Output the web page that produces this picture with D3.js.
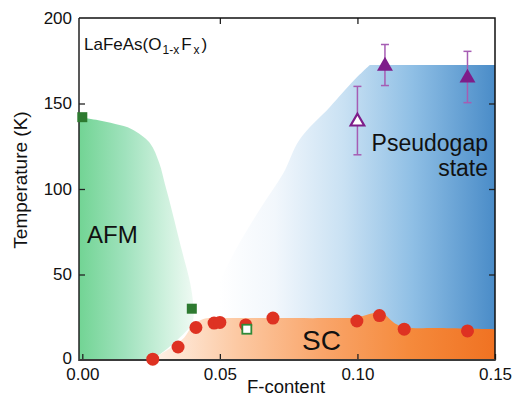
<!DOCTYPE html>
<html><head><meta charset="utf-8">
<script src="https://cdn.jsdelivr.net/npm/d3@7/dist/d3.min.js"></script>
<style>
html,body{margin:0;padding:0;background:#fff;}
svg{display:block;font-family:"Liberation Sans",Arial,sans-serif;}
</style></head>
<body><svg id="c" width="515" height="403"></svg>
<script>
// ---- data ----
const xTicks = [0, 0.05, 0.10, 0.15];
const yTicks = [0, 50, 100, 150, 200];
// superconducting Tc (red circles)
const scX = [0.0256, 0.0348, 0.0413, 0.0479, 0.0500, 0.0594, 0.0693, 0.0998, 0.108, 0.117, 0.140];
const scT = [0.5, 7.6, 19, 21.6, 22, 20.5, 24.5, 22.8, 26, 18, 17];
// AFM transition (filled green squares)
const afmX = [0.0, 0.0398];
const afmT = [142, 30];
// open green square
const afmOpenX = [0.0598];
const afmOpenT = [18];
// pseudogap (purple triangles) with error bars
const pgX = [0.110, 0.140];
const pgT = [172.5, 165.5];
const pgErr = [12, 15];
const pgOpenX = [0.100];
const pgOpenT = [140];
const pgOpenErr = [20];
// region boundaries
const afmRegion = [[-0.0012,142],[0.005,140.5],[0.012,138],[0.018,135],[0.0245,127],[0.028,115],[0.030,103],[0.032,91],[0.0362,64],[0.0392,45],[0.0403,32],[0.0400,22],[0.034,11],[0.028,3],[0.0255,0],[-0.0012,0]];
const scRegion = [[0.0245,0],[0.028,3],[0.033,8],[0.037,13],[0.040,20],[0.044,24],[0.05,24.5],[0.07,24.5],[0.09,24.5],[0.10,25],[0.106,27.5],[0.109,27.5],[0.114,21],[0.118,19],[0.13,18.7],[0.15,18],[0.15,0]];
const pgRegion = [[0.1045,172.5],[0.15,172.5],[0.15,0],[0.040,0],[0.043,20],[0.0536,58],[0.0645,88],[0.073,109],[0.079,129],[0.090,148],[0.099,164],[0.1045,172.5]];

// ---- layout ----
const svg = d3.select("#c");
const L=79, R=495, T=18, B=360;
const x = d3.scaleLinear().domain([-0.0012, 0.15]).range([L, R]);
const y = d3.scaleLinear().domain([0, 200]).range([B, T]);

const defs = svg.append("defs");
function grad(id, x1, x2, stops){
  const g = defs.append("linearGradient").attr("id", id)
    .attr("gradientUnits","userSpaceOnUse")
    .attr("x1", x1).attr("x2", x2).attr("y1",0).attr("y2",0);
  stops.forEach(s=>g.append("stop").attr("offset",s[0]).attr("stop-color",s[1]));
}
grad("gAFM", L, x(0.041), [[0,"#72d494"],[0.4,"#a0e2bd"],[0.75,"#cff1de"],[1,"#f0faf4"]]);
grad("gPG", x(0.05), R, [[0,"#ffffff"],[0.2,"#f2f7fc"],[0.45,"#c9e1f3"],[0.7,"#8fbfe5"],[1,"#4a8cc8"]]);
grad("gSC", x(0.025), R, [[0,"#fff3ea"],[0.25,"#fcc9a3"],[0.5,"#f9a56a"],[0.75,"#f58a3c"],[1,"#f07222"]]);

const clip = defs.append("clipPath").attr("id","plot");
clip.append("rect").attr("x",L).attr("y",T).attr("width",R-L).attr("height",B-T);

const line = d3.line().x(d=>x(d[0])).y(d=>y(d[1]));
const curved = d3.line().x(d=>x(d[0])).y(d=>y(d[1])).curve(d3.curveCatmullRom);
const plot = svg.append("g").attr("clip-path","url(#plot)");

plot.append("path").attr("d", line(pgRegion.slice(0,3)) + curved(pgRegion.slice(3)).replace(/^M/,"L") + "Z").attr("fill","url(#gPG)");
plot.append("path").attr("d", curved(afmRegion.slice(0,afmRegion.length-1)) + "L"+x(afmRegion[afmRegion.length-1][0])+","+y(0)+"Z").attr("fill","url(#gAFM)");
plot.append("path").attr("d", curved(scRegion.slice(0,scRegion.length-1)) + "L"+x(0.15)+","+y(0)+"Z").attr("fill","url(#gSC)");

// ---- axes ----
const fmt = d3.format(".2f");
svg.append("g").attr("transform",`translate(0,${B})`)
  .call(d3.axisBottom(x).tickValues(xTicks).tickFormat(fmt).tickSizeInner(-6).tickSizeOuter(0).tickPadding(8))
  .call(g=>g.select(".domain").remove());
svg.append("g").attr("transform",`translate(0,${T})`)
  .call(d3.axisTop(x).tickValues(xTicks.slice(1,3)).tickFormat("").tickSizeInner(-6).tickSizeOuter(0))
  .call(g=>g.select(".domain").remove());
svg.append("g").attr("transform",`translate(${L},0)`)
  .call(d3.axisLeft(y).tickValues(yTicks).tickSizeInner(-6).tickSizeOuter(0).tickPadding(7))
  .call(g=>g.select(".domain").remove())
  .call(g=>g.selectAll(".tick line").filter(d=>d===0||d===200).remove())
  .call(g=>g.selectAll(".tick text").filter(d=>d===0).attr("dy","0.2em"));
svg.append("g").attr("transform",`translate(${R},0)`)
  .call(d3.axisRight(y).tickValues([50,100,150]).tickFormat("").tickSizeInner(-6).tickSizeOuter(0))
  .call(g=>g.select(".domain").remove());
svg.selectAll(".tick text").attr("font-size",17).attr("fill","#111").attr("font-family","Liberation Sans, Arial, sans-serif");
svg.selectAll(".tick line").attr("stroke","#222").attr("stroke-width",1.3);

// frame
svg.append("path").attr("d",`M${L},${T}H${R}V${B}`).attr("fill","none").attr("stroke","#111").attr("stroke-width",1.5);
svg.append("line").attr("x1",L).attr("x2",L).attr("y1",T).attr("y2",B+1).attr("stroke","#222").attr("stroke-width",1.5);
svg.append("line").attr("x1",L).attr("x2",R+0.75).attr("y1",B).attr("y2",B).attr("stroke","#3a3a3a").attr("stroke-width",2.2);

// ---- markers ----
const purple = "#7e1d8a", errc = "#a65db3";
function errBars(xs, ts, es){
  xs.forEach((xv,i)=>{
    const cx = x(xv), yt = y(ts[i]+es[i]), yb = y(ts[i]-es[i]);
    svg.append("line").attr("x1",cx).attr("x2",cx).attr("y1",yt).attr("y2",yb).attr("stroke",errc).attr("stroke-width",1.5);
    [yt,yb].forEach(yy=>svg.append("line").attr("x1",cx-4).attr("x2",cx+4).attr("y1",yy).attr("y2",yy).attr("stroke",errc).attr("stroke-width",1.5));
  });
}
errBars(pgX, pgT, pgErr);
errBars(pgOpenX, pgOpenT, pgOpenErr);
const tri = d3.symbol().type(d3.symbolTriangle).size(110);
pgX.forEach((xv,i)=>svg.append("path").attr("d",tri()).attr("transform",`translate(${x(xv)},${y(pgT[i])+1})`).attr("fill",purple));
pgOpenX.forEach((xv,i)=>svg.append("path").attr("d",d3.symbol().type(d3.symbolTriangle).size(80)()).attr("transform",`translate(${x(xv)},${y(pgOpenT[i])+1})`).attr("fill","#fff").attr("stroke",purple).attr("stroke-width",2.2));

scX.forEach((xv,i)=>svg.append("circle").attr("cx",x(xv)).attr("cy",y(scT[i])).attr("r",6.5).attr("fill","#de3222"));
afmX.forEach((xv,i)=>svg.append("rect").attr("x",x(xv)-5).attr("y",y(afmT[i])-5).attr("width",10).attr("height",10).attr("fill","#2d7a30"));
afmOpenX.forEach((xv,i)=>svg.append("rect").attr("x",x(xv)-4.5).attr("y",y(afmOpenT[i])-4.5).attr("width",9).attr("height",9).attr("fill","#fff").attr("stroke","#2f8a38").attr("stroke-width",1.8));

// ---- text ----
const t1 = svg.append("text").attr("x",84).attr("y",50).attr("font-size",17).attr("fill","#111");
t1.append("tspan").text("LaFeAs(O");
t1.append("tspan").attr("font-size",12).attr("dy",4).attr("dx",1).text("1-x");
t1.append("tspan").attr("dy",-4).attr("dx",2).text("F");
t1.append("tspan").attr("font-size",12).attr("dy",4).attr("dx",2).text("x");
t1.append("tspan").attr("dy",-4).attr("dx",2).text(")");
svg.append("text").attr("x",87).attr("y",243).attr("font-size",24).attr("fill","#111").text("AFM");
svg.append("text").attr("x",488).attr("y",151).attr("text-anchor","end").attr("font-size",23).attr("fill","#111").text("Pseudogap");
svg.append("text").attr("x",488).attr("y",176).attr("text-anchor","end").attr("font-size",23).attr("fill","#111").text("state");
svg.append("text").attr("x",302).attr("y",350).attr("font-size",28).attr("fill","#111").text("SC");
svg.append("text").attr("x",286).attr("y",393).attr("text-anchor","middle").attr("font-size",18.5).attr("fill","#111").text("F-content");
svg.append("text").attr("transform","translate(27,180) rotate(-90)").attr("text-anchor","middle").attr("font-size",19).attr("fill","#111").text("Temperature (K)");
</script></body></html>
